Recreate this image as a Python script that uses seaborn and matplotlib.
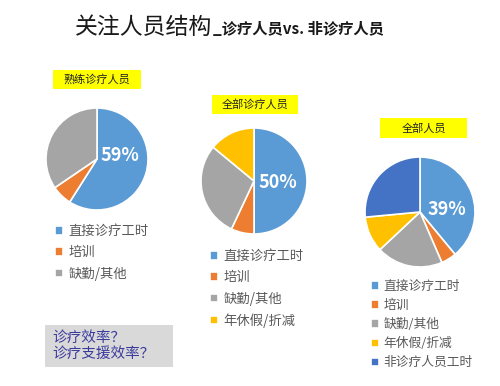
import matplotlib
matplotlib.use("Agg")
import matplotlib.pyplot as plt
import matplotlib.patches as mpatches
import seaborn as sns

# data
pie_titles = ["熟练诊疗人员", "全部诊疗人员", "全部人员"]
labels_1 = ["直接诊疗工时", "培训", "缺勤/其他"]
values_1 = [59, 6.5, 34.5]
labels_2 = ["直接诊疗工时", "培训", "缺勤/其他", "年休假/折减"]
values_2 = [50, 7, 29, 14]
labels_3 = ["直接诊疗工时", "培训", "缺勤/其他", "年休假/折减", "非诊疗人员工时"]
values_3 = [39, 4.5, 19.5, 10.5, 26.5]
colors = ["#5B9BD5", "#ED7D31", "#A5A5A5", "#FFC000", "#4472C4"]

sns.set_theme(style="white")
plt.rcParams["font.family"] = ["Noto Sans CJK SC", "DejaVu Sans"]

W, H = 500, 386
fig = plt.figure(figsize=(W / 100, H / 100), dpi=100)
fig.patch.set_facecolor("white")


def fx(x):
    return x / W


def fy(y):
    return 1 - y / H


# title, second part placed right after the first
t = fig.text(fx(75), fy(34), "关注人员结构", fontsize=16.5, color="#1a1a1a", va="baseline")
fig.canvas.draw()
bb = t.get_window_extent()
fig.text(bb.x1 / W + 0.002, fy(34), "_诊疗人员vs. 非诊疗人员", fontsize=11,
         fontweight="bold", color="#1a1a1a", va="baseline")

# position of each pie, its yellow title box and its legend (pixels from top left)
layout = [
    dict(c=(97, 159), r=51, box=(53, 70, 88, 19), leg=(55, 224), fs=9.6, ls=0.55, pct=(0.45, 0.07)),
    dict(c=(254, 181), r=53, box=(212, 95, 86, 19), leg=(210, 249), fs=9.6, ls=0.55, pct=(0.45, -0.02)),
    dict(c=(420, 212), r=55, box=(380, 118, 87, 20), leg=(371, 280), fs=9.2, ls=0.47, pct=(0.49, 0.04)),
]
datasets = [(labels_1, values_1), (labels_2, values_2), (labels_3, values_3)]

for (labels, values), lay, title in zip(datasets, layout, pie_titles):
    cx, cy = lay["c"]
    r = lay["r"]
    ax = fig.add_axes([fx(cx - r), fy(cy + r), 2 * r / W, 2 * r / H])
    wedges, _ = ax.pie(values, colors=colors[:len(values)], startangle=90, counterclock=False,
                       wedgeprops=dict(edgecolor="white", linewidth=1.2))
    ax.set_xlim(-1, 1)
    ax.set_ylim(-1, 1)
    ax.set_aspect("auto")
    ax.axis("off")
    ax.text(lay["pct"][0], lay["pct"][1], f"{values[0]:.0f}%", color="white", fontsize=13,
            fontweight="bold", ha="center", va="center")

    bx, by, bw, bh = lay["box"]
    fig.patches.append(mpatches.Rectangle((fx(bx), fy(by + bh)), bw / W, bh / H,
                                          transform=fig.transFigure, facecolor="#FFFF00",
                                          edgecolor="none", zorder=1))
    fig.text(fx(bx + bw / 2), fy(by + bh / 2), title, fontsize=8, ha="center", va="center",
             color="#222222", zorder=2)

    lx, ly = lay["leg"]
    fig.legend(wedges, labels, loc="upper left", bbox_to_anchor=(fx(lx), fy(ly)),
               frameon=False, fontsize=lay["fs"], labelcolor="#595959",
               handlelength=0.6, handleheight=0.6, handletextpad=0.4,
               labelspacing=lay["ls"], borderpad=0, borderaxespad=0)

# question box
fig.patches.append(mpatches.Rectangle((fx(45), fy(367)), 128 / W, 42 / H,
                                      transform=fig.transFigure, facecolor="#D9D9D9",
                                      edgecolor="none"))
fig.text(fx(52), fy(346), "诊疗效率？\n诊疗支援效率？", fontsize=10.5, color="#3B3B9E",
         va="center", ha="left", linespacing=1.15)

fig.savefig("out.png", dpi=100, facecolor="white")
